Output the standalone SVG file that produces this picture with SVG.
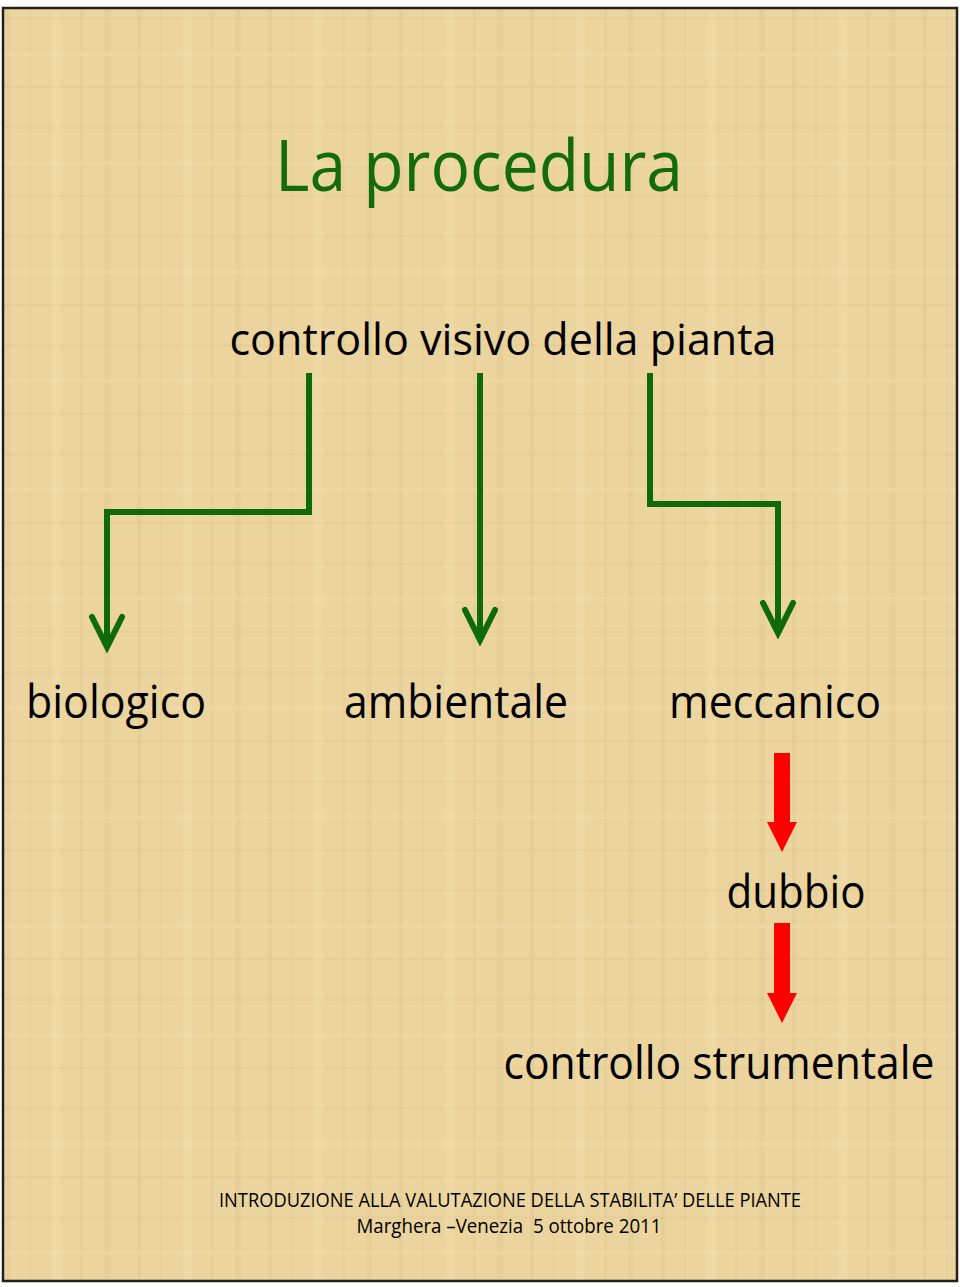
<svg xmlns="http://www.w3.org/2000/svg" width="960" height="1287" viewBox="0 0 960 1287">
<style>
.t{font-family:"Open Sans","Noto Sans","Liberation Sans",sans-serif;fill:#000}
.title{font-family:"Open Sans","Noto Sans","Liberation Sans",sans-serif;fill:#136b0e}
.g{fill:none;stroke:#0f6a0c;stroke-width:6;stroke-linejoin:miter}
.r{fill:#ff0000}
</style>
<defs>
<pattern id="pap" width="131" height="109" patternUnits="userSpaceOnUse">
<rect width="131" height="109" fill="#ebd49e"/>
<rect x="6" y="0" width="4" height="109" fill="#c9a76a" opacity="0.12"/>
<rect x="29" y="0" width="2" height="109" fill="#d9bd83" opacity="0.22"/>
<rect x="52" y="0" width="9" height="109" fill="#f4e2b2" opacity="0.35"/>
<rect x="80" y="0" width="3" height="109" fill="#c9a76a" opacity="0.13"/>
<rect x="104" y="0" width="6" height="109" fill="#d4b678" opacity="0.16"/>
<rect x="0" y="17" width="131" height="3" fill="#c9a76a" opacity="0.08"/>
<rect x="0" y="52" width="131" height="4" fill="#f4e2b2" opacity="0.25"/>
<rect x="0" y="86" width="131" height="2" fill="#cfae72" opacity="0.1"/>
</pattern>
<marker id="chev" markerUnits="userSpaceOnUse" markerWidth="40" markerHeight="40" viewBox="-34 -20 40 40" refX="0" refY="0" orient="auto">
<path d="M-30,-15 L0,0 L-30,15" fill="none" stroke="#0f6a0c" stroke-width="6" stroke-linejoin="miter" stroke-linecap="round"/>
</marker>
</defs>
<rect x="0" y="0" width="960" height="1287" fill="#ffffff"/>
<rect x="3" y="8" width="954" height="1273" fill="url(#pap)" stroke="#231f1a" stroke-width="2.5"/>

<g id="title"><text class="title" x="479" y="191" font-size="72" text-anchor="middle" textLength="408" lengthAdjust="spacingAndGlyphs">La procedura</text></g>
<g id="n-controllo-visivo"><text class="t" x="503" y="355" font-size="44" text-anchor="middle" textLength="547" lengthAdjust="spacingAndGlyphs">controllo visivo della pianta</text></g>
<g id="n-biologico"><text class="t" x="116" y="718" font-size="46" text-anchor="middle" textLength="180" lengthAdjust="spacingAndGlyphs">biologico</text></g>
<g id="n-ambientale"><text class="t" x="456" y="718" font-size="46" text-anchor="middle" textLength="224" lengthAdjust="spacingAndGlyphs">ambientale</text></g>
<g id="n-meccanico"><text class="t" x="775" y="718" font-size="46" text-anchor="middle" textLength="212" lengthAdjust="spacingAndGlyphs">meccanico</text></g>
<g id="n-dubbio"><text class="t" x="796" y="908" font-size="46" text-anchor="middle" textLength="139" lengthAdjust="spacingAndGlyphs">dubbio</text></g>
<g id="n-controllo-strumentale"><text class="t" x="719" y="1079" font-size="45" text-anchor="middle" textLength="431" lengthAdjust="spacingAndGlyphs">controllo strumentale</text></g>

<g id="connectors">
<path class="g" d="M309,373 V512 H107 V647" marker-end="url(#chev)"/>
<path class="g" d="M480,373 V640" marker-end="url(#chev)"/>
<path class="g" d="M650,373 V504 H778 V633" marker-end="url(#chev)"/>
<path class="r" d="M774,753 H790 V822 H797 L782,852 L767,822 H774 Z"/>
<path class="r" d="M774,923 H790 V993 H797 L782,1023 L767,993 H774 Z"/>
</g>

<g id="footer">
<text class="t" x="510" y="1207" font-size="20" text-anchor="middle" textLength="582" lengthAdjust="spacingAndGlyphs">INTRODUZIONE ALLA VALUTAZIONE DELLA STABILITA’ DELLE PIANTE</text>
<text class="t" x="509" y="1233" font-size="20" text-anchor="middle" textLength="305" lengthAdjust="spacingAndGlyphs" xml:space="preserve">Marghera –Venezia  5 ottobre 2011</text>
</g>
</svg>
